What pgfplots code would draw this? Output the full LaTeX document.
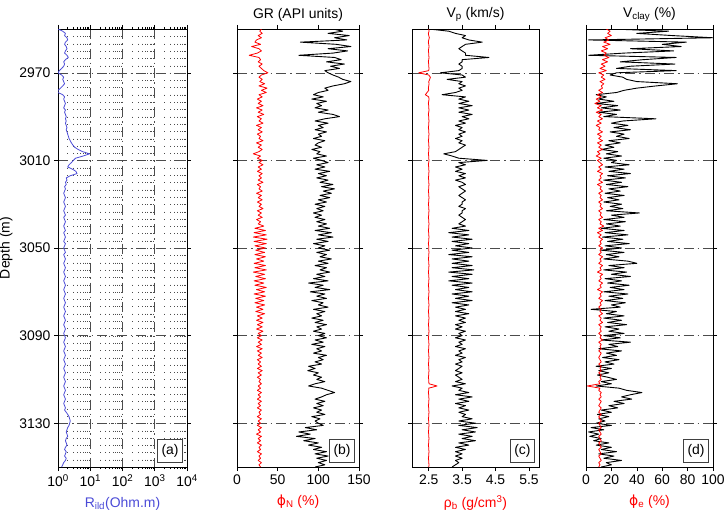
\documentclass[border=0pt]{standalone}
\usepackage{pgfplots}
\pgfplotsset{compat=1.18}
\usepackage{pgfplotstable}
\usepackage{fontspec}
\setmainfont{Liberation Sans}
\newfontfamily\dv{DejaVu Sans}
\newcommand\fs{\fontsize{14}{16}\selectfont}
\newcommand\phisym{{\dv ϕ}}

\definecolor{rblue}{RGB}{75,75,215}
\definecolor{gridc}{gray}{0.3}

%% depth, R_ild, phi_N, GR, rho_b, Vp, phi_e, Vclay
\pgfplotstableread{
d R N GR rho Vp e Vc
2950 1.0 30 118 2.50 2.50 16 20
2951 1.4 28 130 2.51 3.10 19 65
2952 1.7 31 112 2.49 3.30 17 40
2953 1.6 26 138 2.50 3.60 20 68
2954 1.9 30 120 2.52 3.50 15 100
2955 2.0 24 135 2.50 3.70 18 2
2956 1.7 22 78 2.49 4.10 14 79
2957 1.6 29 122 2.50 3.60 19 60
2958 1.8 18 140 2.51 3.50 13 75
2959 1.9 27 112 2.50 3.40 17 35
2960 1.7 30 136 2.49 3.50 12 69
2961 1.6 25 118 2.50 3.60 16 30
2962 1.9 15 76 2.50 3.60 14 2
2963 2.1 27 120 2.51 4.30 18 71
2964 1.7 29 128 2.50 3.50 13 45
2965 1.5 26 110 2.49 3.50 17 27
2966 1.6 31 132 2.50 3.40 12 70
2967 1.5 27 115 2.50 3.50 15 35
2968 1.3 30 126 2.51 3.50 11 24
2969 1.1 33 108 2.50 3.40 16 71
2970 1.0 38 112 2.20 2.85 10 24
2971 1.3 30 118 2.50 3.50 14 19
2972 1.5 27 125 2.55 3.60 12 29
2973 1.4 31 130 2.53 3.05 15 32
2974 1.5 28 140 2.50 3.50 11 40
2975 1.6 34 132 2.51 3.40 14 72
2976 1.4 27 118 2.50 3.60 12 55
2977 1.2 37 108 2.49 3.40 13 40
2978 1.0 30 112 2.50 3.50 10 30
2979 1.0 36 100 2.45 3.30 13 24
2980 1.4 27 94 2.40 2.90 9 8
2981 1.6 31 106 2.50 3.60 12 16
2982 1.5 25 92 2.51 3.40 8 10
2983 1.6 30 110 2.50 3.70 11 22
2984 1.7 26 98 2.49 3.40 7 8
2985 1.6 32 104 2.50 3.80 12 25
2986 1.5 24 96 2.50 3.40 9 12
2987 1.7 31 112 2.51 3.70 13 27
2988 1.6 26 100 2.50 3.40 8 10
2989 1.7 33 118 2.49 3.80 12 24
2990 1.8 25 126 2.50 3.50 10 14
2991 1.7 30 108 2.50 3.70 13 55
2992 1.8 27 96 2.51 3.40 9 29
2993 1.7 32 112 2.50 3.60 12 20
2994 1.8 24 100 2.50 3.30 8 33
2995 1.9 30 106 2.49 3.50 11 22
2996 1.8 26 96 2.50 3.40 10 35
2997 1.9 31 110 2.50 3.60 13 19
2998 2.0 25 100 2.51 3.40 9 30
2999 2.1 29 104 2.50 3.50 12 24
3000 2.2 27 94 2.50 3.30 10 34
3001 2.4 32 108 2.49 3.50 13 18
3002 2.6 24 100 2.50 3.40 9 27
3003 2.9 30 96 2.50 3.60 12 15
3004 3.3 26 104 2.51 3.50 10 22
3005 4.2 31 92 2.50 3.40 13 12
3006 5.8 27 102 2.50 3.30 9 25
3007 9.5 20 98 2.49 2.95 11 16
3008 6.0 29 110 2.50 3.20 8 28
3009 3.5 25 94 2.50 3.40 12 14
3010 3.0 31 104 2.51 4.25 9 24
3011 2.6 27 112 2.50 3.40 11 20
3012 2.2 32 98 2.49 3.60 13 34
3013 2.0 26 108 2.50 3.30 10 15
3014 2.8 30 96 2.50 3.50 12 30
3015 3.6 25 114 2.51 3.30 9 18
3016 3.9 31 100 2.50 3.60 13 35
3017 2.4 27 110 2.50 3.40 11 17
3018 1.8 30 98 2.49 3.60 12 31
3019 1.9 26 112 2.50 3.30 10 14
3020 1.7 32 102 2.50 3.50 13 28
3021 1.8 25 118 2.51 3.60 9 16
3022 1.6 29 104 2.50 3.40 12 33
3023 1.7 27 120 2.50 3.50 11 18
3024 1.6 31 106 2.49 3.60 13 27
3025 1.5 24 116 2.50 3.50 10 15
3026 1.6 30 102 2.50 3.40 12 30
3027 1.7 26 114 2.51 3.50 11 17
3028 1.6 31 100 2.50 3.60 13 26
3029 1.5 25 110 2.50 3.50 10 14
3030 1.6 30 96 2.49 3.50 12 28
3031 1.7 27 108 2.50 3.40 11 19
3032 1.6 32 98 2.50 3.60 13 29
3033 1.5 25 106 2.51 3.50 10 16
3034 1.6 30 94 2.50 3.50 12 42
3035 1.7 26 104 2.50 3.40 11 20
3036 1.5 31 96 2.49 3.50 13 30
3037 1.6 24 108 2.50 3.60 10 14
3038 1.7 29 98 2.50 3.50 12 31
3039 1.6 26 110 2.51 3.40 11 16
3040 1.5 33 100 2.50 3.60 14 27
3041 1.6 22 114 2.50 3.20 10 12
3042 1.7 35 96 2.49 3.70 13 30
3043 1.5 21 116 2.50 3.10 9 15
3044 1.6 36 100 2.50 3.70 12 33
3045 1.7 20 118 2.51 3.20 10 13
3046 1.6 37 98 2.50 3.80 13 29
3047 1.5 21 112 2.50 3.20 11 17
3048 1.7 36 94 2.49 3.70 12 34
3049 1.6 22 108 2.50 3.30 10 15
3050 1.5 35 100 2.50 3.80 13 28
3051 1.6 23 114 2.50 3.20 11 12
3052 1.7 34 98 2.51 3.70 12 30
3053 1.5 22 110 2.50 3.10 10 16
3054 1.6 35 102 2.50 3.80 13 26
3055 1.7 24 116 2.49 3.20 11 14
3056 1.6 33 100 2.50 3.70 12 33
3057 1.5 21 112 2.50 3.20 10 40
3058 1.6 35 96 2.51 3.80 13 18
3059 1.7 22 110 2.50 3.20 11 30
3060 1.6 36 102 2.50 3.85 12 14
3061 1.5 20 114 2.49 3.10 9 32
3062 1.6 34 98 2.50 3.80 13 20
3063 1.7 23 108 2.50 3.20 11 35
3064 1.6 35 94 2.51 3.70 12 15
3065 1.5 21 112 2.50 3.10 10 28
3066 1.6 33 88 2.50 3.80 13 17
3067 1.7 22 106 2.49 3.20 11 34
3068 1.6 36 96 2.50 3.70 12 19
3069 1.5 24 114 2.50 3.30 9 30
3070 1.6 34 90 2.51 3.80 13 14
3071 1.7 21 108 2.50 3.20 11 33
3072 1.6 35 98 2.50 3.70 12 18
3073 1.5 23 110 2.49 3.30 10 29
3074 1.6 33 92 2.50 3.80 13 15
3075 1.7 22 106 2.50 3.20 11 31
3076 1.6 34 100 2.51 3.70 12 20
3077 1.5 24 112 2.50 3.30 10 27
3078 1.6 32 94 2.50 3.60 12 4
3079 1.7 23 108 2.49 3.30 11 24
3080 1.6 34 98 2.50 3.70 13 16
3081 1.5 25 104 2.50 3.30 10 30
3082 1.6 31 92 2.51 3.60 12 14
3083 1.7 24 106 2.50 3.40 11 28
3084 1.6 32 96 2.50 3.60 13 17
3085 1.5 25 110 2.49 3.30 10 32
3086 1.6 31 98 2.50 3.50 12 15
3087 1.7 24 104 2.50 3.30 11 26
3088 1.6 32 94 2.51 3.60 12 18
3089 1.5 26 108 2.50 3.40 10 30
3090 1.6 30 100 2.50 3.50 12 14
3091 1.7 25 110 2.49 3.30 11 27
3092 1.6 31 96 2.50 3.60 13 12
3093 1.5 26 106 2.50 3.40 10 35
3094 1.6 30 92 2.51 3.50 12 18
3095 1.7 24 108 2.50 3.30 11 25
3096 1.6 31 98 2.50 3.60 12 10
3097 1.5 25 104 2.49 3.40 10 28
3098 1.6 30 94 2.50 3.50 12 16
3099 1.7 26 110 2.50 3.30 11 24
3100 1.6 31 100 2.51 3.60 10 13
3101 1.5 25 106 2.50 3.40 11 26
3102 1.6 29 96 2.50 3.50 12 15
3103 1.7 26 104 2.49 3.30 10 22
3104 1.6 30 88 2.50 3.50 12 8
3105 1.5 25 96 2.50 3.40 11 20
3106 1.6 31 87 2.51 3.30 12 10
3107 1.7 26 100 2.50 3.50 10 18
3108 1.6 30 94 2.50 3.30 12 9
3109 1.5 25 104 2.49 3.40 11 17
3110 1.6 29 98 2.50 3.50 12 24
3111 1.7 27 108 2.50 3.30 10 12
3112 1.6 30 96 2.51 3.60 11 20
3113 1.5 26 88 2.75 3.20 1 8
3114 1.6 29 104 2.50 3.50 11 26
3115 1.7 25 112 2.50 3.40 10 32
3116 1.6 30 120 2.49 3.70 12 44
3117 1.5 26 110 2.50 3.30 11 35
3118 1.6 29 104 2.50 3.80 12 28
3119 1.7 25 96 2.51 3.40 10 36
3120 1.6 30 108 2.50 3.70 12 22
3121 1.5 26 98 2.50 3.30 11 30
3122 1.6 29 106 2.49 3.60 10 18
3123 1.7 25 94 2.50 3.40 12 25
3124 1.6 30 104 2.50 3.70 11 12
3125 1.8 27 98 2.51 3.40 10 20
3126 2.0 29 108 2.50 3.60 12 9
3127 2.2 25 92 2.50 3.50 10 18
3128 2.3 30 102 2.49 3.80 11 10
3129 2.4 26 96 2.50 3.40 12 15
3130 2.3 29 100 2.50 3.90 10 8
3131 2.2 25 106 2.51 3.40 11 20
3132 2.0 30 84 2.50 3.95 12 4
3133 1.9 26 98 2.50 3.50 10 14
3134 1.8 29 76 2.49 3.90 11 2
3135 1.9 24 90 2.50 3.40 12 10
3136 2.0 30 73 2.50 3.80 10 3
3137 1.8 26 96 2.51 3.50 11 12
3138 1.7 29 82 2.50 3.90 12 6
3139 1.8 25 100 2.50 3.40 10 18
3140 1.9 30 88 2.49 3.70 11 8
3141 1.7 27 104 2.50 3.30 12 20
3142 1.6 29 94 2.50 3.60 10 12
3143 1.8 25 110 2.51 3.30 11 24
3144 1.7 30 96 2.50 3.50 12 10
3145 1.6 27 112 2.50 3.30 10 22
3146 1.8 29 98 2.49 3.50 11 14
3147 1.7 26 110 2.50 3.30 12 28
3148 1.5 30 100 2.50 3.40 10 16
3149 1.4 27 108 2.51 3.30 11 20
3150 1.3 29 96 2.50 3.20 10 12
}\logs

\pgfplotsset{
  wlog/.style={
    scale only axis, height=438bp, anchor=north west,
    y dir=reverse, ymin=2950, ymax=3150,
    ytick={2970,3010,3050,3090,3130},
    tick align=outside, major tick length=4bp, minor tick length=2bp,
    tick style={black, line width=0.6pt},
    axis line style={black, line width=0.8pt},
    ymajorgrids,
    major grid style={gridc, line width=0.6pt, dash pattern=on 10bp off 4bp on 1.5bp off 4bp},
    tick label style={font=\fs}, label style={font=\fs},
    title style={font=\fs, yshift=-2bp},
    xlabel style={yshift=-4bp},
    /pgf/number format/assume math mode=true, /pgf/number format/1000 sep={},
    every axis plot/.append style={line width=0.8pt, line join=round},
  },
  panel/.style={
    extra description/.code={
      \node[draw=black!75, fill=white, line width=0.8pt, inner xsep=4bp, inner ysep=5bp,
        anchor=south east, font=\fs, xshift=-4bp, yshift=4bp] at (axis description cs:1,0) {#1};
    }
  }
}

\begin{document}
\begin{tikzpicture}
  \useasboundingbox (0,0) rectangle (726bp,516bp);

  %% (a) resistivity
  \begin{axis}[wlog, panel=(a), at={(58bp,487bp)}, width=129bp,
    xmode=log, xmin=1, xmax=10000,
    xtick={1,10,100,1000,10000},
    xticklabels={10\textsuperscript{0},10\textsuperscript{1},10\textsuperscript{2},10\textsuperscript{3},10\textsuperscript{4}},
    minor xtick={2,3,4,5,6,7,8,9,20,30,40,50,60,70,80,90,200,300,400,500,600,700,800,900,2000,3000,4000,5000,6000,7000,8000,9000},
    xmajorgrids, xminorgrids,
    minor grid style={gridc, line width=0.5pt, dash pattern=on 0.8bp off 6.5bp},
    ylabel={Depth (m)},
    xlabel={R\textsubscript{ild}(Ohm.m)}, xlabel style={text=rblue},
    ]
    \addplot[rblue] table[x=R, y=d] {\logs};
  \end{axis}

  %% (b) neutron porosity and gamma ray
  \begin{axis}[wlog, panel=(b), at={(237bp,487bp)}, width=122bp,
    xmin=0, xmax=150, xtick={0,50,100,150}, yticklabels={},
    title={GR (API units)},
    xlabel={\phisym\textsubscript{N} (\%)}, xlabel style={text=red},
    ]
    \addplot[red] table[x=N, y=d] {\logs};
    \addplot[black, line width=0.9pt] table[x=GR, y=d] {\logs};
  \end{axis}

  %% (c) bulk density and P velocity
  \begin{axis}[wlog, panel=(c), at={(412bp,487bp)}, width=127bp,
    xmin=2, xmax=5.8, xtick={2.5,3.5,4.5,5.5}, yticklabels={},
    title={V\textsubscript{p} (km/s)},
    xlabel={ρ\textsubscript{b} (g/cm\textsuperscript{3})}, xlabel style={text=red},
    ]
    \addplot[red] table[x=rho, y=d] {\logs};
    \addplot[black, line width=0.9pt] table[x=Vp, y=d] {\logs};
  \end{axis}

  %% (d) effective porosity and clay volume
  \begin{axis}[wlog, panel=(d), at={(586bp,487bp)}, width=127bp,
    xmin=0, xmax=100, xtick={0,20,40,60,80,100}, yticklabels={},
    title={V\textsubscript{clay} (\%)},
    xlabel={\phisym\textsubscript{e} (\%)}, xlabel style={text=red},
    ]
    \addplot[black, line width=0.9pt] table[x=Vc, y=d] {\logs};
    \addplot[red] table[x=e, y=d] {\logs};
  \end{axis}
\end{tikzpicture}
\end{document}
